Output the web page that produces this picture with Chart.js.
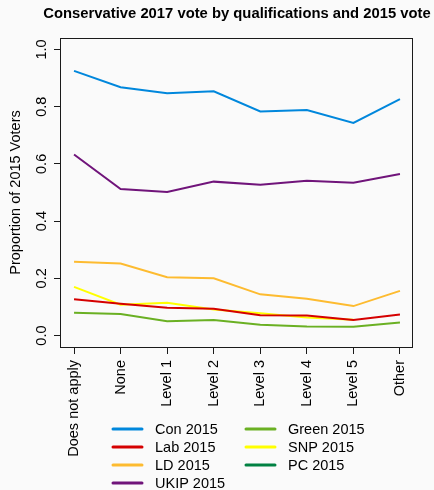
<!DOCTYPE html>
<html>
<head>
<meta charset="utf-8">
<script src="https://cdn.jsdelivr.net/npm/chart.js@4/dist/chart.umd.min.js"></script>
<style>
  html, body { margin: 0; padding: 0; background: #fafafa; }
  canvas { display: block; }
</style>
</head>
<body>
<canvas id="c" width="434" height="490"></canvas>
<script>
const chartTitle = 'Conservative 2017 vote by qualifications and 2015 vote';
const yAxisTitle = 'Proportion of 2015 Voters';
const qualifications = ['Does not apply', 'None', 'Level 1', 'Level 2', 'Level 3', 'Level 4', 'Level 5', 'Other'];
const yTickValues = [0, 0.2, 0.4, 0.6, 0.8, 1.0];

const partyNames = ['Con 2015', 'Lab 2015', 'LD 2015', 'UKIP 2015', 'Green 2015', 'SNP 2015', 'PC 2015'];
const partyColours = ['#0087DC', '#D50000', '#FDBB30', '#70147A', '#6AB023', '#FFFF00', '#008142'];

// Share of each 2015 party's voters who voted Conservative in 2017
const con2015   = [0.925, 0.868, 0.847, 0.854, 0.783, 0.788, 0.743, 0.826];
const lab2015   = [0.127, 0.111, 0.097, 0.094, 0.071, 0.070, 0.054, 0.074];
const ld2015    = [0.258, 0.252, 0.204, 0.200, 0.144, 0.129, 0.103, 0.156];
const ukip2015  = [0.633, 0.512, 0.502, 0.538, 0.527, 0.541, 0.534, 0.565];
const green2015 = [0.080, 0.075, 0.050, 0.054, 0.038, 0.032, 0.031, 0.046];
const snp2015   = [0.170, 0.108, 0.115, 0.091, 0.078, 0.063, 0.055, null];
const pc2015    = [null, null, null, null, null, null, null, null];

const seriesValues = [con2015, lab2015, ld2015, ukip2015, green2015, snp2015, pc2015];

const FONT = '"Liberation Sans", Arial, Helvetica, sans-serif';
const TEXT_SIZE = 14.5;
const TITLE_SIZE = 14.8;
const INK = '#1a1a1a';

const datasets = seriesValues.map((vals, k) => ({
  label: partyNames[k],
  data: vals.map((v, i) => ({ x: i + 1, y: v })),
  borderColor: partyColours[k],
  backgroundColor: partyColours[k],
  borderWidth: 2,
  pointRadius: 0,
  tension: 0,
  spanGaps: false
}));

// Frame, title, rotated y tick labels and a two-column legend
const decorations = {
  id: 'decorations',
  afterDraw(chart) {
    const { ctx, chartArea: a } = chart;
    const yScale = chart.scales.y;
    ctx.save();

    // plot frame
    ctx.strokeStyle = INK;
    ctx.lineWidth = 1;
    ctx.strokeRect(Math.round(a.left) - 0.5, Math.round(a.top) + 0.5,
                   Math.round(a.right - a.left), Math.round(a.bottom - a.top));

    // title centred over the plot region
    ctx.fillStyle = '#000';
    ctx.font = `bold ${TITLE_SIZE}px ${FONT}`;
    ctx.textAlign = 'center';
    ctx.textBaseline = 'middle';
    ctx.fillText(chartTitle, (a.left + a.right) / 2, 14);

    // y tick labels, written upward like the axis title
    ctx.font = `${TEXT_SIZE}px ${FONT}`;
    ctx.textBaseline = 'alphabetic';
    yScale.ticks.forEach(t => {
      const py = yScale.getPixelForValue(t.value);
      ctx.save();
      ctx.translate(a.left - 15, py);
      ctx.rotate(-Math.PI / 2);
      ctx.textAlign = 'center';
      ctx.fillText(t.value.toFixed(1), 0, 0);
      ctx.restore();
    });

    // legend: four rows per column, filled column by column
    const colX = [113, 246];
    const rowY0 = 429, rowStep = 18;
    ctx.textAlign = 'left';
    ctx.textBaseline = 'middle';
    chart.data.datasets.forEach((ds, k) => {
      const col = Math.floor(k / 4), row = k % 4;
      const x = colX[col], y = rowY0 + row * rowStep;
      ctx.strokeStyle = ds.borderColor;
      ctx.lineWidth = 3;
      ctx.lineCap = 'round';
      ctx.beginPath();
      ctx.moveTo(x, y);
      ctx.lineTo(x + 29, y);
      ctx.stroke();
      ctx.fillStyle = '#000';
      ctx.fillText(ds.label, x + 42, y + 1);
    });

    ctx.restore();
  }
};

new Chart(document.getElementById('c'), {
  type: 'line',
  data: { datasets },
  options: {
    responsive: false,
    animation: false,
    devicePixelRatio: 1,
    layout: { padding: { top: 38, left: 0, right: 21, bottom: 0 } },
    plugins: {
      legend: { display: false },
      title: { display: false },
      tooltip: { enabled: false }
    },
    scales: {
      x: {
        type: 'linear',
        min: 0.72,
        max: 8.28,
        afterBuildTicks: s => { s.ticks = qualifications.map((_, i) => ({ value: i + 1 })); },
        afterFit: s => { s.height = 143; },
        border: { display: false },
        grid: { drawOnChartArea: false, drawTicks: true, tickLength: 7, color: INK, lineWidth: 1 },
        ticks: {
          autoSkip: false,
          minRotation: 90,
          maxRotation: 90,
          padding: 6,
          color: '#000',
          font: { family: FONT, size: TEXT_SIZE },
          callback: (v, i) => qualifications[i]
        }
      },
      y: {
        type: 'linear',
        min: -0.04,
        max: 1.04,
        afterBuildTicks: s => { s.ticks = yTickValues.map(v => ({ value: v })); },
        afterFit: s => { s.width = 61; },
        border: { display: false },
        grid: { drawOnChartArea: false, drawTicks: true, tickLength: 7, color: INK, lineWidth: 1 },
        ticks: { display: false },
        title: {
          display: true,
          text: yAxisTitle,
          color: '#000',
          font: { family: FONT, size: TEXT_SIZE },
          padding: { top: 7, bottom: 0 }
        }
      }
    }
  },
  plugins: [decorations]
});
</script>
</body>
</html>
